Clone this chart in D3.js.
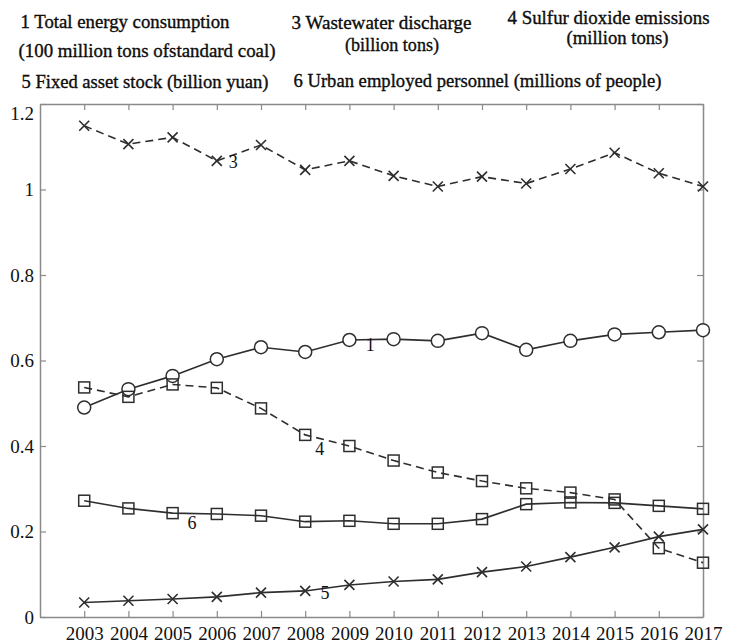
<!DOCTYPE html>
<html>
<head>
<meta charset="utf-8">
<script src="https://cdn.jsdelivr.net/npm/d3@7"></script>
<style>
  html, body { margin: 0; padding: 0; background: #fff; }
  svg { display: block; }
  text { font-family: "Liberation Serif", "Times New Roman", serif; fill: #111; }
</style>
</head>
<body>
<svg id="chart" width="731" height="644"></svg>
<script>
// Years on the horizontal axis
const years = [2003, 2004, 2005, 2006, 2007, 2008, 2009, 2010, 2011, 2012, 2013, 2014, 2015, 2016, 2017];

// Indicator series (normalised values)
const energy     = [0.490, 0.533, 0.564, 0.603, 0.631, 0.620, 0.648, 0.650, 0.646, 0.664, 0.625, 0.646, 0.661, 0.666, 0.671]; // 1
const wastewater = [1.149, 1.106, 1.122, 1.067, 1.104, 1.046, 1.067, 1.032, 1.007, 1.030, 1.014, 1.048, 1.086, 1.038, 1.007]; // 3
const sulfur     = [0.537, 0.515, 0.544, 0.536, 0.488, 0.426, 0.400, 0.366, 0.338, 0.318, 0.301, 0.291, 0.275, 0.161, 0.127]; // 4
const fixedAsset = [0.034, 0.038, 0.042, 0.047, 0.057, 0.061, 0.075, 0.083, 0.088, 0.105, 0.118, 0.140, 0.163, 0.188, 0.205]; // 5
const employed   = [0.272, 0.254, 0.243, 0.241, 0.237, 0.223, 0.225, 0.218, 0.218, 0.229, 0.264, 0.268, 0.267, 0.260, 0.253]; // 6

const yTicks = [0, 0.2, 0.4, 0.6, 0.8, 1, 1.2];

// Legend wording
const legendText = [
  "1  Total energy consumption",
  "(100 million tons ofstandard coal)",
  "3  Wastewater discharge",
  "(billion tons)",
  "4  Sulfur dioxide emissions",
  "(million tons)",
  "5  Fixed asset stock (billion yuan)",
  "6  Urban employed personnel (millions of people)"
];
// Legend layout: left edge, baseline and run length of each line
const legendLayout = [
  { x: 20.5, y: 27.5, w: 209 },
  { x: 18.5, y: 56.5, w: 257 },
  { x: 291.5, y: 28.5, w: 180 },
  { x: 345, y: 51, w: 94 },
  { x: 507.5, y: 23.5, w: 202 },
  { x: 566.5, y: 44, w: 102 },
  { x: 21.5, y: 87.5, w: 247 },
  { x: 293.5, y: 87, w: 368 }
];

// Curve number annotations
const curveNames = ["3", "1", "4", "6", "5"];
const curveNameYears = [2006.37, 2009.47, 2008.33, 2005.44, 2008.45];
const curveNameValues = [1.064, 0.636, 0.393, 0.220, 0.056];

const series = [
  { values: wastewater, dashed: true,  marker: "x" },
  { values: energy,     dashed: false, marker: "circle" },
  { values: sulfur,     dashed: true,  marker: "square" },
  { values: employed,   dashed: false, marker: "square" },
  { values: fixedAsset, dashed: false, marker: "x" }
];

const svg = d3.select("#chart");
const plotLeft = 40, plotRight = 703, plotTop = 104, plotBottom = 617;

const x = d3.scaleLinear().domain([2002, 2017]).range([plotLeft, plotRight]);
const y = d3.scaleLinear().domain([0, 1.2]).range([plotBottom, plotTop]);

const axisColor = "#8a8a8a";
const lineColor = "#2e2e2e";

// Frame with inward ticks on all four sides
const axes = svg.append("g");
axes.append("g").attr("transform", `translate(0,${plotBottom})`)
  .call(d3.axisBottom(x).tickValues(years).tickFormat(d3.format("d")).tickSizeInner(-6).tickSizeOuter(0).tickPadding(10));
axes.append("g").attr("transform", `translate(0,${plotTop})`)
  .call(d3.axisTop(x).tickValues(years).tickFormat("").tickSizeInner(-6).tickSizeOuter(0));
const gLeft = axes.append("g").attr("transform", `translate(${plotLeft},0)`)
  .call(d3.axisLeft(y).tickValues(yTicks).tickFormat(d3.format("~g")).tickSizeInner(-6).tickSizeOuter(0).tickPadding(6));
axes.append("g").attr("transform", `translate(${plotRight},0)`)
  .call(d3.axisRight(y).tickValues(yTicks).tickFormat("").tickSizeInner(-6).tickSizeOuter(0));

axes.selectAll(".domain").attr("stroke", axisColor).attr("stroke-width", 1.5);
axes.selectAll(".tick line").attr("stroke", axisColor).attr("stroke-width", 1.2);
axes.selectAll(".tick text")
  .attr("font-family", "Liberation Serif, serif")
  .attr("font-size", 19)
  .attr("fill", "#111");
// Top label sits just inside the frame
gLeft.selectAll(".tick").filter(d => d === 1.2).select("text").attr("y", 9);

// Lines and markers
const line = d3.line().x((d, i) => x(years[i])).y(d => y(d));

series.forEach(s => {
  svg.append("path")
    .datum(s.values)
    .attr("d", line)
    .attr("fill", "none")
    .attr("stroke", lineColor)
    .attr("stroke-width", 1.6)
    .attr("stroke-dasharray", s.dashed ? "8,5" : null);

  const g = svg.append("g");
  const pts = s.values.map((v, i) => [x(years[i]), y(v)]);
  if (s.marker === "circle") {
    g.selectAll("circle").data(pts).join("circle")
      .attr("cx", d => d[0]).attr("cy", d => d[1]).attr("r", 6.5)
      .attr("fill", "#fff").attr("stroke", lineColor).attr("stroke-width", 1.5);
  } else if (s.marker === "square") {
    const h = 5.5;
    g.selectAll("rect").data(pts).join("rect")
      .attr("x", d => d[0] - h).attr("y", d => d[1] - h)
      .attr("width", 2 * h).attr("height", 2 * h)
      .attr("fill", "none").attr("stroke", lineColor).attr("stroke-width", 1.5);
  } else {
    const h = 5;
    g.selectAll("path").data(pts).join("path")
      .attr("d", d => `M${d[0]-h},${d[1]-h}L${d[0]+h},${d[1]+h}M${d[0]-h},${d[1]+h}L${d[0]+h},${d[1]-h}`)
      .attr("fill", "none").attr("stroke", lineColor).attr("stroke-width", 1.6);
  }
});

// Curve numbers
svg.append("g").selectAll("text").data(curveNames).join("text")
  .attr("x", (d, i) => x(curveNameYears[i]))
  .attr("y", (d, i) => y(curveNameValues[i]))
  .attr("text-anchor", "middle").attr("dominant-baseline", "central")
  .attr("font-size", 18)
  .text(d => d);

// Legend
svg.append("g").selectAll("text").data(legendText).join("text")
  .attr("x", (d, i) => legendLayout[i].x)
  .attr("y", (d, i) => legendLayout[i].y)
  .attr("textLength", (d, i) => legendLayout[i].w)
  .attr("lengthAdjust", "spacingAndGlyphs")
  .attr("font-size", 19.5)
  .attr("fill", "#000")
  .attr("stroke", "#000")
  .attr("stroke-width", 0.35)
  .text(d => d);
</script>
</body>
</html>
